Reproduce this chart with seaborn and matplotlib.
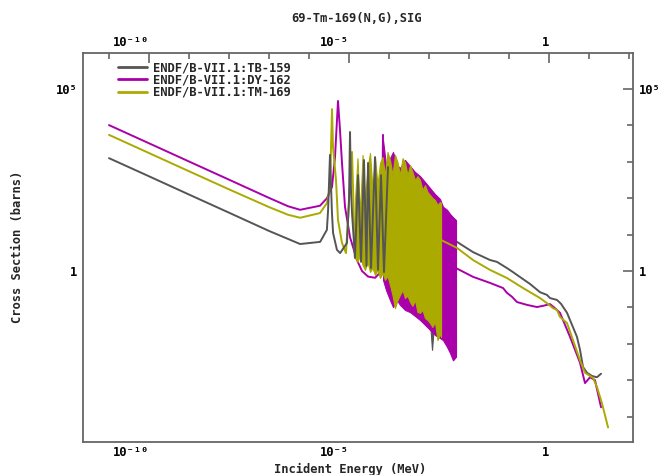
import numpy as np
import pandas as pd
import seaborn as sns
import matplotlib.pyplot as plt
from matplotlib.lines import Line2D
from matplotlib.ticker import FixedLocator, FixedFormatter, NullFormatter

# energies in MeV, cross sections in barns
# TB-159 (grey)
tb_low_e = [1e-11, 1e-10, 1e-9, 1e-8, 1e-7, 6.0e-7, 1.9e-6, 2.8e-6, 3.0e-6, 3.35e-6,
            3.75e-6, 4.0e-6, 5.0e-6, 6.0e-6, 8.9e-6, 1.0e-5, 1.06e-5, 1.12e-5, 1.19e-5,
            1.41e-5, 1.68e-5, 2.0e-5, 2.37e-5, 2.74e-5, 2.99e-5, 3.55e-5, 4.47e-5,
            5.31e-5, 6.31e-5, 7.5e-5, 9.44e-5]
tb_low_xs = [1260, 400, 126, 40, 12.6, 5.5, 6.3, 13.5, 47, 1550,
             39, 11, 3.8, 3.1, 5.9, 89, 6600, 170, 39,
             2.3, 430, 1.78, 1120, 1.37, 930, 1.2, 1350,
             1.07, 430, 0.93, 720]
tb_band_e = [9.44e-5, 1.26e-4, 1.68e-4, 2.24e-4, 2.99e-4, 3.98e-4, 5.31e-4, 7.08e-4,
             9.44e-4, 1.06e-3, 1.19e-3, 1.33e-3, 1.58e-3, 1.88e-3]
tb_band_hi = [720, 430, 204, 229, 170, 123, 89, 65, 48, 42, 39, 35, 25, 15]
tb_band_lo = [0.57, 0.30, 0.158, 0.22, 0.117, 0.085, 0.074, 0.051, 0.040, 0.040,
              0.0068, 0.033, 0.040, 0.158]
tb_high_e = [1.88e-3, 5.0e-3, 1.26e-2, 3.35e-2, 5.0e-2, 8.9e-2, 0.126, 0.158, 0.335,
             0.6, 0.89, 1.06, 1.58, 2.0, 2.82, 5.0, 5.96, 7.08, 8.9, 11.9, 15.8, 20]
tb_high_xs = [10.4, 6.3, 3.3, 2.0, 1.78, 1.2, 0.93, 0.78, 0.44,
              0.26, 0.22, 0.18, 0.16, 0.125, 0.071, 0.0155, 0.0068, 0.0023, 0.0016,
              0.0013, 0.0012, 0.0015]

# DY-162 (magenta)
dy_low_e = [1e-11, 1e-10, 1e-9, 1e-8, 1e-7, 3e-7, 6.0e-7, 1.88e-6, 2.82e-6, 3.76e-6,
            4.47e-6, 5.31e-6, 5.96e-6, 6.68e-6, 7.94e-6, 1.06e-5, 1.58e-5, 2.11e-5,
            3.0e-5, 4.5e-5, 5.96e-5, 6.7e-5, 7.08e-5]
dy_low_xs = [10200, 3230, 1020, 323, 102, 60, 48, 62, 100, 204,
             1350, 4.7e4, 7400, 930, 58, 8.5, 2.0, 1.0,
             0.7, 0.65, 0.9, 15, 5500]
dy_band_e = [7.08e-5, 8.41e-5, 1.06e-4, 1.26e-4, 1.58e-4, 1.88e-4, 2.51e-4, 3.35e-4,
             4.47e-4, 5.96e-4, 7.94e-4, 1.06e-3, 1.41e-3, 1.88e-3, 2.24e-3, 2.82e-3,
             3.35e-3, 3.98e-3, 4.73e-3]
dy_band_hi = [4000, 810, 1260, 1860, 810, 675, 1120, 767, 525, 405, 279, 190, 130, 95,
              58, 48, 37, 30, 25]
dy_band_lo = [0.57, 0.30, 0.158, 0.102, 0.158, 0.117, 0.085, 0.074, 0.058, 0.045,
              0.033, 0.024, 0.0174, 0.0144, 0.0126, 0.0082, 0.0056, 0.0035, 0.0044]
dy_high_e = [4.73e-3, 1.26e-2, 3.35e-2, 7.08e-2, 8.91e-2, 0.119, 0.158, 0.282, 0.50,
             0.708, 1.06, 1.41, 1.88, 3.35, 5.96, 7.94, 10.6, 14.1, 20]
dy_high_xs = [1.2, 0.69, 0.47, 0.34, 0.25, 0.195, 0.14, 0.117, 0.102,
              0.11, 0.123, 0.095, 0.071, 0.0155, 0.003, 0.00083, 0.0012, 0.001, 0.00018]

# TM-169 (olive)
tm_low_e = [1e-11, 1e-10, 1e-9, 1e-8, 1e-7, 3e-7, 6.0e-7, 1.88e-6, 2.82e-6, 3.35e-6,
            3.76e-6, 3.98e-6, 4.73e-6, 5.31e-6, 6.68e-6, 8.4e-6, 1.19e-5, 1.41e-5]
tm_low_xs = [5500, 1740, 550, 175, 57, 35, 29, 39, 74, 204,
             2.8e4, 2600, 316, 25, 5.9, 3.1, 1860, 2.3]
tm_band_e = [1.41e-5, 1.63e-5, 1.88e-5, 2.18e-5, 2.51e-5, 2.90e-5, 3.35e-5, 3.87e-5,
             4.47e-5, 5.16e-5, 5.96e-5, 6.88e-5, 7.94e-5, 9.17e-5, 1.06e-4, 1.22e-4,
             1.41e-4, 1.63e-4, 1.88e-4, 2.18e-4, 2.51e-4, 2.90e-4, 3.35e-4, 3.87e-4,
             4.47e-4, 5.16e-4, 5.96e-4, 6.88e-4, 7.94e-4, 9.17e-4, 1.06e-3, 1.22e-3,
             1.41e-3, 1.63e-3, 1.88e-3, 2.0e-3]
tm_band_hi = [89, 1260, 35, 1550, 89, 675, 1740, 170, 1350, 229, 930, 1350,
              430, 1860, 1120, 430, 1550, 980, 430, 1260, 980, 430, 810, 525,
              316, 405, 316, 170, 229, 148, 123, 102, 89, 65, 79, 74]
tm_band_lo = [2.3, 1.78, 2.75, 1.46, 1.07, 1.78, 0.94, 1.2, 0.78, 1.07, 0.64, 0.88,
              0.57, 0.73, 0.41, 0.22, 0.095, 0.158, 0.22, 0.30, 0.18, 0.21, 0.14, 0.11,
              0.158, 0.074, 0.071, 0.085, 0.051, 0.045, 0.037, 0.029, 0.040, 0.0126,
              0.0186, 0.0155]
tm_high_e = [2.0e-3, 5.01e-3, 1.26e-2, 3.35e-2, 8.91e-2, 0.224, 0.596, 0.891, 1.26,
             1.58, 1.88, 2.82, 3.98, 5.96, 7.94, 12.6, 15.8, 21.1, 30]
tm_high_xs = [7.1, 4.3, 2.0, 1.07, 0.64, 0.34, 0.18, 0.13, 0.095,
              0.085, 0.055, 0.037, 0.0126, 0.0035, 0.0016, 0.00115, 0.00065, 0.00023,
              0.00005]

labels = ["ENDF/B-VII.1:TB-159", "ENDF/B-VII.1:DY-162", "ENDF/B-VII.1:TM-169"]
colors = ["#555555", "#aa00aa", "#aaaa00"]

x_major = [1e-10, 1e-5, 1.0]
x_major_labels = ["10⁻¹⁰", "10⁻⁵", "1"]
y_major = [1.0, 1e5]
y_major_labels = ["1", "10⁵"]

sns.set_theme(style="white")
plt.rcParams["font.family"] = ["DejaVu Sans Mono", "DejaVu Sans"]
plt.rcParams["font.weight"] = "bold"
plt.rcParams["font.size"] = 8.7

fig = plt.figure(figsize=(6.59, 4.75), dpi=100)
ax = fig.add_axes([83 / 659, 33 / 475, 550 / 659, 389 / 475])
ax.set_xscale("log")
ax.set_yscale("log")

series = [
    (tb_low_e, tb_low_xs, tb_band_e, tb_band_lo, tb_band_hi, tb_high_e, tb_high_xs),
    (dy_low_e, dy_low_xs, dy_band_e, dy_band_lo, dy_band_hi, dy_high_e, dy_high_xs),
    (tm_low_e, tm_low_xs, tm_band_e, tm_band_lo, tm_band_hi, tm_high_e, tm_high_xs),
]

for i, (low_e, low_xs, band_e, band_lo, band_hi, high_e, high_xs) in enumerate(series):
    z = 3 + i
    # the isolated Tb resonances show through the gaps of the Tm forest
    z_low = 6 if i == 0 else z
    sns.lineplot(x=low_e, y=low_xs, estimator=None, sort=False, color=colors[i],
                 lw=1.4, zorder=z_low, legend=False, ax=ax)
    sns.lineplot(x=high_e, y=high_xs, estimator=None, sort=False, color=colors[i],
                 lw=1.4, zorder=z, legend=False, ax=ax)
    # resolved resonance forest, too dense to see single lines
    ax.fill_between(band_e, band_lo, band_hi, color=colors[i], lw=0.8, zorder=z)

ax.set_xlim(10 ** -11.65, 10 ** 2.1)
ax.set_ylim(10 ** -4.7, 10 ** 5.99)

ax.xaxis.set_major_locator(FixedLocator(x_major))
ax.xaxis.set_major_formatter(FixedFormatter(x_major_labels))
ax.xaxis.set_minor_locator(FixedLocator([10.0 ** k for k in range(-11, 3)]))
ax.xaxis.set_minor_formatter(NullFormatter())
ax.yaxis.set_major_locator(FixedLocator(y_major))
ax.yaxis.set_major_formatter(FixedFormatter(y_major_labels))
ax.yaxis.set_minor_locator(FixedLocator([10.0 ** k for k in range(-4, 6)]))
ax.yaxis.set_minor_formatter(NullFormatter())

ax.tick_params(which="both", direction="in", top=True, right=True,
               labeltop=True, labelright=True, color="#666666", width=1.2,
               labelcolor="black", labelsize=8.7)
ax.tick_params(which="major", length=7)
ax.tick_params(which="minor", length=4.5)
ax.tick_params(axis="x", pad=3)
ax.tick_params(axis="y", pad=4)
for t in ax.xaxis.get_major_ticks():
    t.label1.set_horizontalalignment("right")
    t.label2.set_horizontalalignment("right")
for lab in ax.get_xticklabels() + ax.get_yticklabels():
    lab.set_fontweight("bold")

for sp in ax.spines.values():
    sp.set_color("#666666")
    sp.set_linewidth(1.3)

ax.set_xlabel("")
ax.set_ylabel("")
fig.text(350 / 659, 1 - 469 / 475, "Incident Energy (MeV)", ha="center", va="center",
         fontweight="bold")
fig.text(18 / 659, 1 - 247 / 475, "Cross Section (barns)", ha="center", va="center",
         rotation=90, fontweight="bold")
fig.text(357 / 659, 1 - 18 / 475, "69-Tm-169(N,G),SIG", ha="center", va="center",
         fontweight="bold")

handles = [Line2D([], [], color=c, lw=2) for c in colors]
ax.legend(handles, labels, loc="upper left", bbox_to_anchor=(0.0636, 0.979),
          frameon=False, handlelength=2.4, handletextpad=0.5, labelspacing=-0.05,
          borderpad=0, borderaxespad=0, prop={"weight": "bold", "size": 8.7})

fig.savefig("out.png", dpi=100)
